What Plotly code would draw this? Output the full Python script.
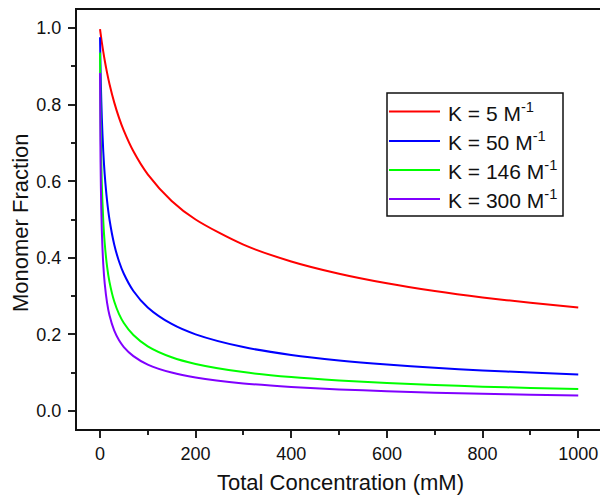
import plotly.graph_objects as go

# Total concentration (mM) and monomer fraction for each association constant
conc_mM = [0.25, 1, 2, 4, 7, 10, 15, 20, 30, 40, 50, 70, 100, 150, 200,
           300, 400, 500, 600, 700, 800, 900, 1000]

frac_K5 = [0.9975, 0.9902, 0.9808, 0.9629, 0.9384, 0.9161, 0.8830, 0.8541,
           0.8054, 0.7656, 0.7321, 0.6781, 0.6180, 0.5486, 0.5000, 0.4343,
           0.3904, 0.3583, 0.3333, 0.3132, 0.2965, 0.2824, 0.2702]
frac_K50 = [0.9762, 0.9161, 0.8541, 0.7656, 0.6781, 0.6180, 0.5486, 0.5000,
            0.4343, 0.3904, 0.3583, 0.3132, 0.2702, 0.2270, 0.2000, 0.1667,
            0.1461, 0.1318, 0.1210, 0.1126, 0.1057, 0.1000, 0.0951]
frac_K146 = [0.9360, 0.8089, 0.7076, 0.5914, 0.4964, 0.4385, 0.3771, 0.3370,
             0.2856, 0.2529, 0.2297, 0.1981, 0.1687, 0.1401, 0.1226, 0.1013,
             0.0883, 0.0794, 0.0727, 0.0675, 0.0633, 0.0598, 0.0568]
frac_K300 = [0.8830, 0.7033, 0.5868, 0.4700, 0.3832, 0.3333, 0.2824, 0.2500,
             0.2096, 0.1844, 0.1667, 0.1429, 0.1210, 0.1000, 0.0872, 0.0718,
             0.0625, 0.0561, 0.0513, 0.0476, 0.0446, 0.0421, 0.0400]

series_labels = ["K = 5 M<sup>-1</sup>", "K = 50 M<sup>-1</sup>",
                 "K = 146 M<sup>-1</sup>", "K = 300 M<sup>-1</sup>"]
series_values = [frac_K5, frac_K50, frac_K146, frac_K300]
series_colors = ["#ff0000", "#0000ff", "#00ff00", "#8000ff"]

FONT = "Arial, Liberation Sans, Helvetica, sans-serif"

fig = go.Figure()
for vals, col in zip(series_values, series_colors):
    fig.add_trace(go.Scatter(
        x=conc_mM, y=vals, mode="lines",
        line=dict(color=col, width=2, shape="spline", smoothing=0.8),
        showlegend=False, hoverinfo="skip",
    ))

axis_common = dict(
    showgrid=False, zeroline=False, showline=False,
    ticks="outside", ticklen=7, tickwidth=2, tickcolor="#222",
    tickfont=dict(family=FONT, size=18, color="#111"),
)

fig.update_xaxes(
    range=[-50, 1045.5], tick0=0, dtick=200,
    minor=dict(ticks="outside", ticklen=4, tickwidth=2, tickcolor="#222", dtick=100, tick0=0),
    **axis_common,
)
fig.update_yaxes(
    range=[-0.05, 1.05], tick0=0, dtick=0.2, tickformat=".1f",
    ticklabelstandoff=3,
    minor=dict(ticks="outside", ticklen=4, tickwidth=2, tickcolor="#222", dtick=0.1, tick0=0),
    **axis_common,
)

# Plot frame (extends past the right edge of the page)
shapes = [dict(type="rect", xref="paper", yref="paper", x0=0, x1=1.02, y0=0, y1=1,
               line=dict(color="#111", width=2), layer="above")]

annotations = [
    dict(text="Total Concentration (mM)", xref="paper", yref="paper",
         x=(340 - 76) / 524, y=(430 - 482) / 421, xanchor="center", yanchor="middle",
         showarrow=False, font=dict(family=FONT, size=22, color="#111")),
    dict(text="Monomer Fraction", xref="paper", yref="paper",
         x=(20 - 76) / 524, y=(430 - 223) / 421, xanchor="center", yanchor="middle",
         textangle=-90, showarrow=False, font=dict(family=FONT, size=22, color="#111")),
]

# Legend box with line samples
def px_x(X):
    return (X - 76) / 524

def px_y(Y):
    return (430 - Y) / 421

shapes.append(dict(type="rect", xref="paper", yref="paper",
                   x0=px_x(387), x1=px_x(563), y0=px_y(216), y1=px_y(93),
                   line=dict(color="#111", width=1.5), fillcolor="white", layer="above"))
row_y = [111.5, 141, 170, 199]
for lbl, col, ry in zip(series_labels, series_colors, row_y):
    shapes.append(dict(type="line", xref="paper", yref="paper",
                       x0=px_x(389), x1=px_x(440), y0=px_y(ry), y1=px_y(ry),
                       line=dict(color=col, width=2), layer="above"))
    annotations.append(dict(text=lbl, xref="paper", yref="paper",
                            x=px_x(446), y=px_y(ry), xanchor="left", yanchor="middle",
                            showarrow=False, font=dict(family=FONT, size=21, color="#111")))

fig.update_layout(
    width=600, height=495,
    margin=dict(l=76, r=0, t=9, b=65),
    paper_bgcolor="white", plot_bgcolor="white",
    shapes=shapes, annotations=annotations,
    showlegend=False,
)

fig.write_html("out.html")
